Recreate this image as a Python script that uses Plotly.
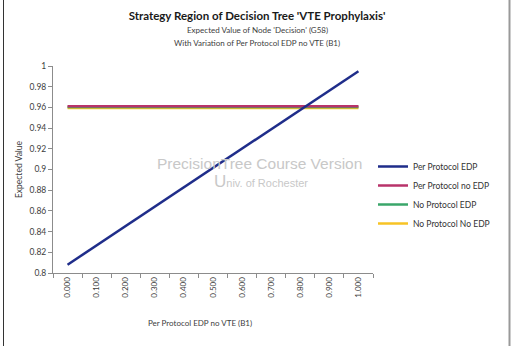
import plotly.graph_objects as go

W, H = 514, 346
ML, MR, MT, MB = 53, 141, 66, 73

x_labels = ["0.000", "0.100", "0.200", "0.300", "0.400", "0.500",
            "0.600", "0.700", "0.800", "0.900", "1.000"]
per_protocol_edp = [0.8080, 0.8267, 0.8454, 0.8641, 0.8828, 0.9015,
                    0.9202, 0.9389, 0.9576, 0.9763, 0.9950]
per_protocol_no_edp = [0.9612] * 11
no_protocol_edp = [0.9604] * 11
no_protocol_no_edp = [0.9594] * 11

series = [
    ("Per Protocol EDP", per_protocol_edp, "#1f2d8a", 1),
    ("Per Protocol no EDP", per_protocol_no_edp, "#b8336a", 2),
    ("No Protocol EDP", no_protocol_edp, "#3aa66a", 3),
    ("No Protocol No EDP", no_protocol_no_edp, "#f7c325", 4),
]

FONT = "Lato"
fig = go.Figure()
# draw horizontal lines first, blue on top
for name, vals, col, rank in series[1:][::-1] + [series[0]]:
    fig.add_trace(go.Scatter(x=x_labels, y=vals, mode="lines", name=name,
                             line=dict(color=col, width=2.5), legendrank=rank))

pw = W - ML - MR
ph = H - MT - MB
def px2x(p):
    return (p - ML) / pw
def py2y(p):
    return (H - MB - p) / ph

fig.update_layout(
    width=W, height=H,
    margin=dict(l=ML, r=MR, t=MT, b=MB),
    paper_bgcolor="white", plot_bgcolor="white",
    font=dict(family=FONT, color="#404040", size=8),
    title=dict(text="<b>Strategy Region of Decision Tree 'VTE Prophylaxis'</b>",
               x=0.5, xref="container", xanchor="center",
               y=1 - 16 / H, yref="container", yanchor="middle",
               font=dict(family=FONT, size=11.5, color="#1a1a1a")),
    showlegend=True,
    legend=dict(x=px2x(373), y=py2y(195), xanchor="left", yanchor="middle",
                font=dict(family=FONT, size=8.5, color="#333333"),
                itemwidth=30, bgcolor="rgba(0,0,0,0)"),
    xaxis=dict(type="category", showgrid=False, showline=True, linecolor="#8c8c8c",
               ticks="outside", tickson="boundaries", ticklen=4, tickcolor="#8c8c8c",
               tickangle=-90, tickfont=dict(size=8, color="#404040"),
               range=[-0.5, 10.5], zeroline=False),
    yaxis=dict(range=[0.8, 1.0], showgrid=False,
               showline=True, linecolor="#8c8c8c", ticks="outside", ticklen=4,
               tickcolor="#8c8c8c", tickfont=dict(size=8.5, color="#404040"),
               title=dict(text="Expected Value", font=dict(size=8.5, color="#404040"),
                          standoff=5),
               zeroline=False),
)

fig.update_yaxes(tickvals=[0.8, 0.82, 0.84, 0.86, 0.88, 0.9, 0.92, 0.94, 0.96, 0.98, 1.0],
                 ticktext=["0.8", "0.82", "0.84", "0.86", "0.88", "0.9", "0.92",
                           "0.94", "0.96", "0.98", "1"])

annotations = [
    dict(text="Expected Value of Node 'Decision' (G58)", x=px2x(257), y=py2y(30)),
    dict(text="With Variation of Per Protocol EDP no VTE (B1)", x=px2x(257), y=py2y(43)),
    dict(text="Per Protocol EDP no VTE (B1)", x=px2x(200), y=py2y(323)),
]
for a in annotations:
    fig.add_annotation(text=a["text"], x=a["x"], y=a["y"], xref="paper", yref="paper",
                       showarrow=False, xanchor="center", yanchor="middle",
                       font=dict(family=FONT, size=8, color="#404040"))

# watermark
fig.add_annotation(text="PrecisionTree Course Version", x=px2x(259), y=py2y(163),
                   xref="paper", yref="paper", showarrow=False,
                   xanchor="center", yanchor="middle",
                   font=dict(family="Liberation Sans", size=15.5, color="#c8c8c8"))
fig.add_annotation(text="<span style='font-size:17px'>U</span>niv. of Rochester",
                   x=px2x(212), y=py2y(181), xref="paper", yref="paper",
                   showarrow=False, xanchor="left", yanchor="middle",
                   font=dict(family="Liberation Sans", size=11, color="#c8c8c8"))

# frame lines
fig.add_shape(type="line", xref="paper", yref="paper",
              x0=px2x(3.5), x1=px2x(3.5), y0=py2y(H), y1=py2y(0),
              line=dict(color="#333333", width=1))
fig.add_shape(type="line", xref="paper", yref="paper",
              x0=px2x(509.5), x1=px2x(509.5), y0=py2y(H), y1=py2y(0),
              line=dict(color="#999999", width=2))

fig.write_html("out.html")
